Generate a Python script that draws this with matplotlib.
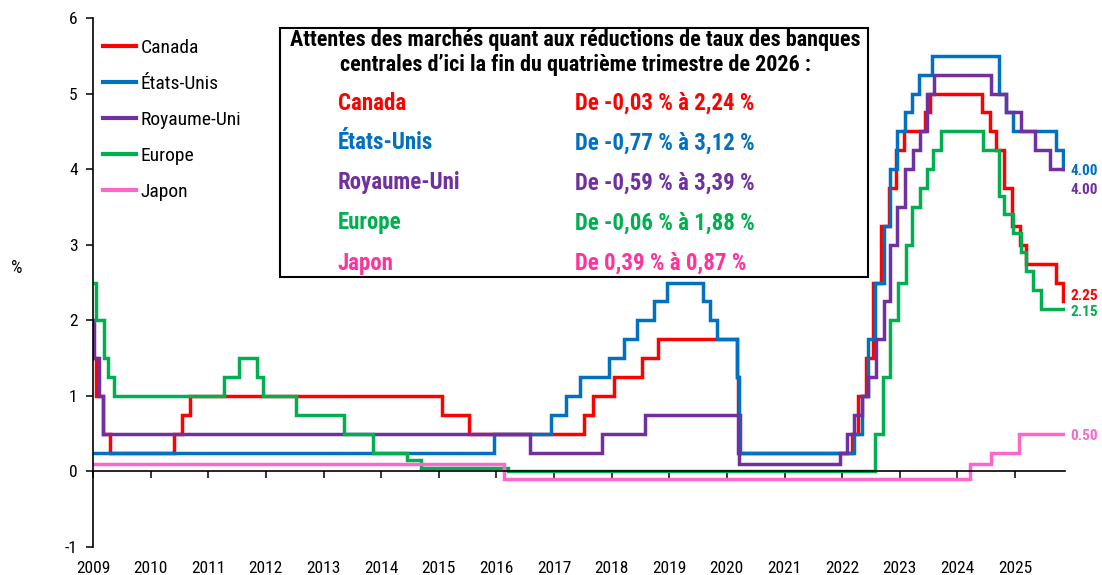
import matplotlib
matplotlib.use("Agg")
import matplotlib.pyplot as plt
from matplotlib import font_manager
from matplotlib.patches import Rectangle
import datetime as dt

# ---------------- data ----------------
canada_dates = ["2009-01-01", "2009-01-20", "2009-03-03", "2009-04-21", "2010-06-01", "2010-07-20",
                "2010-09-08", "2015-01-21", "2015-07-15", "2017-07-12", "2017-09-06", "2018-01-17",
                "2018-07-11", "2018-10-24", "2020-03-04", "2020-03-13", "2020-03-27", "2022-03-02",
                "2022-04-13", "2022-06-01", "2022-07-13", "2022-09-07", "2022-10-26", "2022-12-07",
                "2023-01-25", "2023-06-07", "2023-07-12", "2024-06-05", "2024-07-24", "2024-09-04",
                "2024-10-23", "2024-12-11", "2025-01-29", "2025-03-12", "2025-09-17", "2025-10-29"]
canada_rates = [1.5, 1.0, 0.5, 0.25, 0.5, 0.75,
                1.0, 0.75, 0.5, 0.75, 1.0, 1.25,
                1.5, 1.75, 1.25, 0.75, 0.25, 0.5,
                1.0, 1.5, 2.5, 3.25, 3.75, 4.25,
                4.5, 4.75, 5.0, 4.75, 4.5, 4.25,
                3.75, 3.25, 3.0, 2.75, 2.5, 2.25]

us_dates = ["2009-01-01", "2015-12-16", "2016-12-14", "2017-03-15", "2017-06-14", "2017-12-13",
            "2018-03-21", "2018-06-13", "2018-09-26", "2018-12-19", "2019-07-31", "2019-09-18",
            "2019-10-30", "2020-03-03", "2020-03-15", "2022-03-16", "2022-05-04", "2022-06-15",
            "2022-07-27", "2022-09-21", "2022-11-02", "2022-12-14", "2023-02-01", "2023-03-22",
            "2023-05-03", "2023-07-26", "2024-09-18", "2024-11-07", "2024-12-18", "2025-09-17",
            "2025-10-29"]
us_rates = [0.25, 0.5, 0.75, 1.0, 1.25, 1.5,
            1.75, 2.0, 2.25, 2.5, 2.25, 2.0,
            1.75, 1.25, 0.25, 0.5, 1.0, 1.75,
            2.5, 3.25, 4.0, 4.5, 4.75, 5.0,
            5.25, 5.5, 5.0, 4.75, 4.5, 4.25,
            4.0]

uk_dates = ["2009-01-01", "2009-01-08", "2009-02-05", "2009-03-05", "2016-08-04", "2017-11-02",
            "2018-08-02", "2020-03-11", "2020-03-19", "2021-12-16", "2022-02-03", "2022-03-17",
            "2022-05-05", "2022-06-16", "2022-08-04", "2022-09-22", "2022-11-03", "2022-12-15",
            "2023-02-02", "2023-03-23", "2023-05-11", "2023-06-22", "2023-08-03", "2024-08-01",
            "2024-11-07", "2025-02-06", "2025-05-08", "2025-08-07"]
uk_rates = [2.0, 1.5, 1.0, 0.5, 0.25, 0.5,
            0.75, 0.25, 0.1, 0.25, 0.5, 0.75,
            1.0, 1.25, 1.75, 2.25, 3.0, 3.5,
            4.0, 4.25, 4.5, 5.0, 5.25, 5.0,
            4.75, 4.5, 4.25, 4.0]

europe_dates = ["2009-01-01", "2009-01-21", "2009-03-11", "2009-04-08", "2009-05-13", "2011-04-13",
                "2011-07-13", "2011-11-09", "2011-12-14", "2012-07-11", "2013-05-08", "2013-11-13",
                "2014-06-11", "2014-09-10", "2016-03-16", "2022-07-27", "2022-09-14", "2022-11-02",
                "2022-12-21", "2023-02-08", "2023-03-22", "2023-05-10", "2023-06-21", "2023-08-02",
                "2023-09-20", "2024-06-12", "2024-09-18", "2024-10-23", "2024-12-18", "2025-02-05",
                "2025-03-12", "2025-04-23", "2025-06-11"]
europe_rates = [2.5, 2.0, 1.5, 1.25, 1.0, 1.25,
                1.5, 1.25, 1.0, 0.75, 0.5, 0.25,
                0.15, 0.05, 0.0, 0.5, 1.25, 2.0,
                2.5, 3.0, 3.5, 3.75, 4.0, 4.25,
                4.5, 4.25, 3.65, 3.4, 3.15, 2.9,
                2.65, 2.4, 2.15]

japan_dates = ["2009-01-01", "2016-02-16", "2024-03-19", "2024-07-31", "2025-01-24"]
japan_rates = [0.1, -0.1, 0.1, 0.25, 0.5]

end_date = "2025-11-13"

series_names = ["Canada", "États-Unis", "Royaume-Uni", "Europe", "Japon"]
box_ranges = ["De -0,03 % à 2,24 %", "De -0,77 % à 3,12 %", "De -0,59 % à 3,39 %",
              "De -0,06 % à 1,88 %", "De 0,39 % à 0,87 %"]
box_title = "Attentes des marchés quant aux réductions de taux des banques\ncentrales d\u2019ici la fin du quatrième trimestre de 2026 :"
year_ticks = list(range(2009, 2026))
y_ticks = [-1, 0, 1, 2, 3, 4, 5, 6]

# ---------------- style ----------------
line_colors = ["#FF0000", "#0070C0", "#7030A0", "#00B050", "#FF66CC"]
text_colors = ["#FF0000", "#0070C0", "#7030A0", "#00B050", "#FF3399"]

available = {f.name for f in font_manager.fontManager.ttflist}
font = "DejaVu Sans"
for cand in ["Liberation Sans Narrow", "DejaVu Sans Condensed", "Roboto Condensed",
             "Open Sans Condensed", "Liberation Sans"]:
    if cand in available:
        font = cand
        break
plt.rcParams["font.family"] = [font, "DejaVu Sans"]

W, H = 1102, 575
fig = plt.figure(figsize=(W / 100, H / 100), dpi=100)
ax = fig.add_axes([93 / W, 1 - 547 / H, (1065 - 93) / W, (547 - 18) / H])

def to_dt(s):
    return dt.datetime.strptime(s, "%Y-%m-%d")

all_series = [(canada_dates, canada_rates), (us_dates, us_rates), (uk_dates, uk_rates),
              (europe_dates, europe_rates), (japan_dates, japan_rates)]
for (d, r), name, col in zip(all_series, series_names, line_colors):
    xs = [to_dt(s) for s in d] + [to_dt(end_date)]
    ys = list(r) + [r[-1]]
    ax.step(xs, ys, where="post", color=col, lw=2.5, label=name, solid_joinstyle="miter")

ax.set_xlim(to_dt("2009-01-01"), to_dt(end_date))
ax.set_ylim(-1, 6)

# axes styling
for sp in ["top", "right"]:
    ax.spines[sp].set_visible(False)
ax.spines["bottom"].set_position(("data", 0))
ax.spines["bottom"].set_linewidth(1.2)
ax.spines["left"].set_linewidth(1.2)
ax.set_xticks([dt.datetime(y, 1, 1) for y in year_ticks])
ax.set_xticklabels([])
ax.tick_params(axis="x", direction="out", length=5, width=1.1)
ax.set_yticks(y_ticks)
ax.set_yticklabels([str(v) for v in y_ticks])
ax.tick_params(axis="y", direction="out", length=5, width=1.1, labelsize=12.5, pad=6, colors="#000000")
trans = ax.get_xaxis_transform()
for y in year_ticks:
    ax.text(dt.datetime(y, 1, 1), -0.04, str(y), transform=trans, ha="center", va="center",
            fontsize=12.5)

fig.text(17 / W, 1 - 268 / H, "%", fontsize=13, ha="center", va="center")

# legend
leg = ax.legend(loc="upper left", bbox_to_anchor=(95 / W, 1 - 31 / H), bbox_transform=fig.transFigure,
                frameon=False, fontsize=14, handlelength=1.7, handletextpad=0.25,
                labelspacing=0.93, borderaxespad=0)
for h in leg.get_lines():
    h.set_linewidth(3)

# end labels
end_offsets = [(4, 4), (4, -1), (4, -15), (4, -2), (4, -2)]
for (d, r), col, off in zip(all_series, line_colors, end_offsets):
    ax.annotate(f"{r[-1]:.2f}", xy=(to_dt(end_date), r[-1]), xytext=off, textcoords="offset points",
                color=col, fontsize=11, fontweight="bold", ha="left", va="center",
                annotation_clip=False)

# text box
fig.patches.append(Rectangle((280 / W, 1 - 277 / H), (868 - 280) / W, (277 - 28) / H,
                             transform=fig.transFigure, fill=True, facecolor="white",
                             edgecolor="black", lw=1.5, zorder=5))
title_lines = box_title.split("\n")
t1 = fig.text(575 / W, 1 - 40 / H, title_lines[0], ha="center", va="center", fontsize=13.5,
              fontweight="bold", zorder=6)
t2 = fig.text(575 / W, 1 - 65 / H, title_lines[1], ha="center", va="center", fontsize=13.5,
              fontweight="bold", zorder=6)
row_y = [103, 143, 183, 223, 263]
row_texts = []
for name, rng, col, yy in zip(series_names, box_ranges, text_colors, row_y):
    row_texts.append(fig.text(338 / W, 1 - yy / H, name, ha="left", va="center", fontsize=13.5,
                              fontweight="bold", color=col, zorder=6))
    row_texts.append(fig.text(575 / W, 1 - yy / H, rng, ha="left", va="center", fontsize=13.5,
                              fontweight="bold", color=col, zorder=6))

# fit text widths to the reference (title line 572 px, range text 180 px)
fig.canvas.draw()
r = fig.canvas.get_renderer()
s_title = 572 / t1.get_window_extent(r).width
for t in (t1, t2):
    t.set_fontsize(t.get_fontsize() * s_title)
s_rows = 180 / row_texts[5].get_window_extent(r).width
for t in row_texts:
    t.set_fontsize(t.get_fontsize() * s_rows)

fig.savefig("out.png", dpi=100)
